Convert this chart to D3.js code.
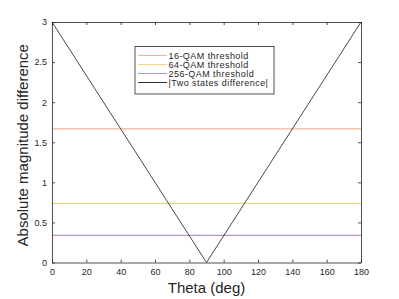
<!DOCTYPE html>
<html><head><meta charset="utf-8">
<script src="https://cdn.jsdelivr.net/npm/d3@7"></script>
<style>body{margin:0;background:#fff}svg{display:block;font-family:"Liberation Sans",Arial,sans-serif}</style>
</head><body>
<script>
const thetaDeg = [0, 90, 180];
const diffValues = [3, 0, 3];
const thresholds = [
  {name: "16-QAM threshold", value: 1.667, color: "#f2b39a"},
  {name: "64-QAM threshold", value: 0.738, color: "#f5d585"},
  {name: "256-QAM threshold", value: 0.338, color: "#c08fd0"}
];
const xTicks = [0,20,40,60,80,100,120,140,160,180];
const yTicks = [0,0.5,1,1.5,2,2.5,3];
const legendLabels = ["16-QAM threshold","64-QAM threshold","256-QAM threshold","|Two states difference|"];

const W=399,H=299, L=52, R=361, T=22, B=262.5;
const svg=d3.select("body").append("svg").attr("width",W).attr("height",H);
const x=d3.scaleLinear().domain([0,180]).range([L,R]);
const y=d3.scaleLinear().domain([0,3]).range([B,T]);
const axc="#262626";

thresholds.forEach(t=>{
  svg.append("line").attr("x1",x(0)).attr("x2",x(180)).attr("y1",y(t.value)).attr("y2",y(t.value))
    .attr("stroke",t.color).attr("stroke-width",1.2);
});
const line=d3.line().x((d,i)=>x(thetaDeg[i])).y(d=>y(d));
svg.append("path").attr("d",line(diffValues)).attr("fill","none").attr("stroke","#333").attr("stroke-width",0.9);

const gx=svg.append("g").attr("transform",`translate(0,${B})`).call(d3.axisBottom(x).tickValues(xTicks).tickSizeInner(-3).tickSizeOuter(0).tickPadding(6));
const gy=svg.append("g").attr("transform",`translate(${L},0)`).call(d3.axisLeft(y).tickValues(yTicks).tickSizeInner(-3).tickSizeOuter(0).tickPadding(5).tickFormat(d3.format("")));
const gt=svg.append("g").attr("transform",`translate(0,${T})`).call(d3.axisTop(x).tickValues(xTicks).tickSizeInner(-3).tickSizeOuter(0).tickFormat(""));
const gr=svg.append("g").attr("transform",`translate(${R},0)`).call(d3.axisRight(y).tickValues(yTicks).tickSizeInner(-3).tickSizeOuter(0).tickFormat(""));
[gx,gy,gt,gr].forEach(g=>{
  g.selectAll("path").attr("stroke",axc).attr("stroke-width",0.8);
  g.selectAll("line").attr("stroke",axc).attr("stroke-width",0.8);
  g.selectAll("text").attr("fill",axc).style("font-size","9px").style("font-family","'Liberation Sans',Arial,sans-serif");
});

svg.append("text").attr("x",(L+R)/2).attr("y",293).attr("text-anchor","middle").attr("fill",axc)
  .style("font-size","15px").text("Theta (deg)");
svg.append("text").attr("transform",`translate(28,${(T+B)/2+3}) rotate(-90)`).attr("text-anchor","middle").attr("fill",axc)
  .style("font-size","15px").text("Absolute magnitude difference");

const lg=svg.append("g");
lg.append("rect").attr("x",135).attr("y",46.5).attr("width",139).attr("height",47.5).attr("fill","#fff").attr("stroke","#262626").attr("stroke-width",0.8);
const legendColors=[...thresholds.map(t=>t.color),"#333"];
legendLabels.forEach((lab,i)=>{
  const yy=55.5+i*9;
  lg.append("line").attr("x1",138).attr("x2",167).attr("y1",yy).attr("y2",yy).attr("stroke",legendColors[i]).attr("stroke-width",1);
  lg.append("text").attr("x",168.5).attr("y",yy+3.2).attr("fill",axc).style("font-size","9px").style("letter-spacing","0.45px").text(lab);
});
</script>
</body></html>
